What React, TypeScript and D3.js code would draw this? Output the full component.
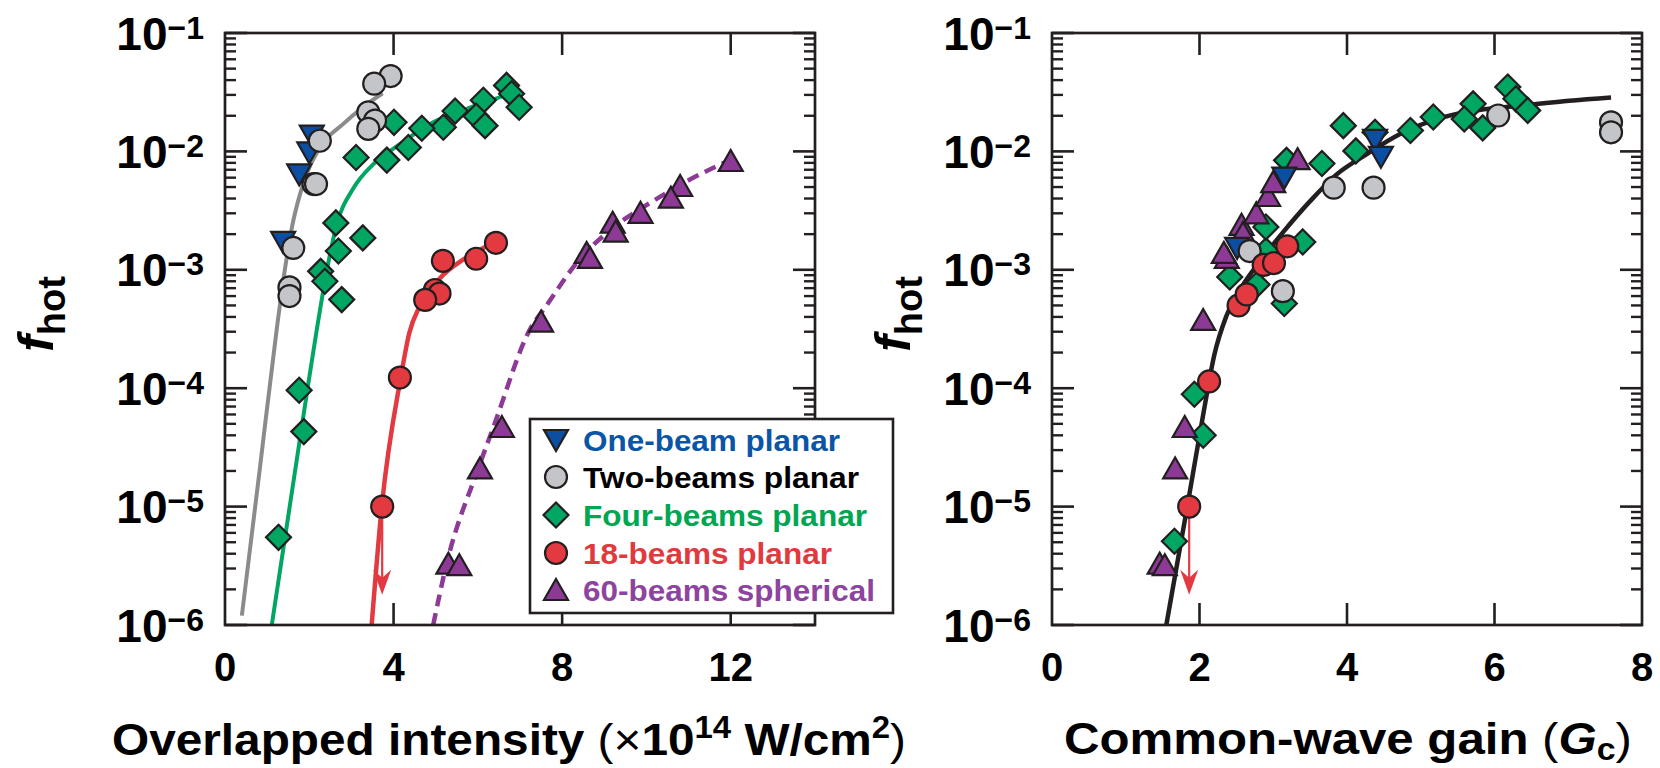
import React from "react";
import * as d3 from "d3";

type Pt = [number, number];

const FONT = "'Liberation Sans', Arial, Helvetica, sans-serif";
const INK = "#231f20";

// ---- series styling ----
const seriesNames = [
  "One-beam planar",
  "Two-beams planar",
  "Four-beams planar",
  "18-beams planar",
  "60-beams spherical",
];
const seriesShapes = ["triangleDown", "circle", "diamond", "circle", "triangle"];
const markerFills = ["#0b4ea2", "#c3c5c8", "#00a661", "#e23a40", "#8c3a95"];
const legendTextColors = ["#0b55a6", "#000000", "#00a651", "#e03a3e", "#8d44a0"];
const legendTextWidths = [257, 276, 284, 249, 292];
// draw order: four, sixty, one, two, eighteen
const drawOrder = [2, 4, 0, 1, 3];

// ---- left panel: f_hot vs overlapped intensity (x10^14 W/cm^2) ----
const intensityOneBeam: Pt[] = [
  [2.06, 0.0136], [2.0, 0.0098], [1.76, 0.0064], [1.38, 0.00172],
];
const intensityTwoBeams: Pt[] = [
  [3.93, 0.0433], [3.54, 0.0373], [3.4, 0.0214], [3.56, 0.0182], [3.4, 0.0155],
  [2.25, 0.0123], [2.1, 0.0053], [2.16, 0.0053], [1.62, 0.00153],
  [1.53, 0.00071], [1.53, 0.0006],
];
const intensityFourBeams: Pt[] = [
  [6.68, 0.0361], [6.8, 0.0307], [6.98, 0.0236], [6.13, 0.027], [5.96, 0.0198],
  [6.17, 0.0165], [5.46, 0.0219], [5.18, 0.016], [4.67, 0.0157], [4.35, 0.0108],
  [4.01, 0.0176], [3.84, 0.00844], [3.11, 0.00889], [2.63, 0.00249],
  [3.27, 0.00186], [2.69, 0.00144], [2.27, 0.00097], [2.37, 0.0008],
  [2.77, 0.00056], [1.76, 9.6e-5], [1.87, 4.3e-5], [1.27, 5.5e-6],
];
const intensityEighteenBeams: Pt[] = [
  [6.43, 0.00169], [5.96, 0.00124], [5.17, 0.00119], [4.98, 0.000675],
  [5.09, 0.00063], [4.75, 0.000557], [4.15, 0.000123], [3.73, 1e-5],
];
const intensitySixtyBeams: Pt[] = [
  [12.0, 0.0083], [10.8, 0.0051], [10.58, 0.00407], [9.86, 0.00303],
  [9.2, 0.0025], [9.27, 0.0021], [8.58, 0.00139], [8.66, 0.00126],
  [7.5, 0.000365], [6.57, 4.7e-5], [6.05, 2.1e-5], [5.3, 3.3e-6], [5.56, 3.2e-6],
];
const intensitySeries = [
  intensityOneBeam, intensityTwoBeams, intensityFourBeams,
  intensityEighteenBeams, intensitySixtyBeams,
];

// fitted curves, left panel
const fitTwoBeams: Pt[] = [
  [0.4, 1.2e-6], [0.82, 2e-5], [1.22, 3e-4], [1.42, 1e-3], [1.6, 2.4e-3],
  [1.8, 4.6e-3], [2.25, 1.08e-2], [2.8, 1.7e-2], [3.3, 2.4e-2], [3.74, 3.1e-2],
];
const fitFourBeams: Pt[] = [
  [1.11, 1e-6], [1.96, 1e-4], [2.17, 3e-4], [2.42, 1.0e-3], [2.65, 2.4e-3],
  [3.05, 4.9e-3], [3.52, 7.8e-3], [4.15, 1.15e-2], [4.94, 1.76e-2],
  [5.74, 2.29e-2], [6.53, 2.88e-2], [6.75, 3.1e-2],
];
const fitEighteenBeams: Pt[] = [
  [3.48, 1e-6], [3.72, 1e-5], [4.17, 1.23e-4], [4.37, 2.9e-4], [4.63, 5.0e-4],
  [5.1, 8.5e-4], [5.65, 1.22e-3], [6.21, 1.58e-3], [6.45, 1.74e-3],
];
const fitSixtyBeams: Pt[] = [
  [4.94, 1e-6], [5.26, 3.3e-6], [6.01, 2.1e-5], [6.37, 4.7e-5], [7.25, 3.2e-4],
  [7.63, 5e-4], [8.35, 1.15e-3], [9.3, 2.4e-3], [10.1, 3.7e-3], [11.0, 5.7e-3],
  [12.0, 8.5e-3],
];

// ---- right panel: f_hot vs common-wave gain G_c ----
const gainOneBeam: Pt[] = [
  [2.51, 0.00153], [3.15, 0.006], [4.38, 0.0125], [4.46, 0.009],
];
const gainTwoBeams: Pt[] = [
  [2.68, 0.00144], [3.13, 0.00066], [3.82, 0.00494], [4.36, 0.00494],
  [6.05, 0.0201], [7.58, 0.0176], [7.58, 0.0145],
];
const gainFourBeams: Pt[] = [
  [1.66, 5.1e-6], [2.05, 4.0e-5], [1.93, 8.9e-5], [2.41, 0.00087],
  [2.78, 0.00075], [3.15, 0.00052], [2.9, 0.00145], [3.4, 0.00172],
  [2.9, 0.0023], [3.18, 0.0084], [3.66, 0.0079], [3.95, 0.0165],
  [4.12, 0.0101], [4.38, 0.0145], [4.86, 0.015], [5.17, 0.0195],
  [5.71, 0.0252], [5.59, 0.0188], [5.84, 0.0158], [6.18, 0.035],
  [6.29, 0.0278], [6.45, 0.0222],
];
const gainEighteenBeams: Pt[] = [
  [1.86, 1e-5], [2.13, 0.000114], [2.53, 0.0005], [2.64, 0.00062],
  [2.87, 0.0011], [3.01, 0.00114], [3.19, 0.00158],
];
const gainSixtyBeams: Pt[] = [
  [1.46, 3.3e-6], [1.53, 3.2e-6], [1.67, 2.1e-5], [1.8, 4.7e-5],
  [2.05, 0.000377], [2.37, 0.00126], [2.33, 0.00139], [2.57, 0.0024],
  [2.59, 0.00205], [2.77, 0.003], [2.93, 0.0042], [3.0, 0.0055], [3.33, 0.0086],
];
const gainSeries = [
  gainOneBeam, gainTwoBeams, gainFourBeams, gainEighteenBeams, gainSixtyBeams,
];
const fitGain: Pt[] = [
  [1.55, 1e-6], [1.84, 1.05e-5], [2.06, 6.5e-5], [2.2, 1.9e-4], [2.36, 4.0e-4],
  [2.55, 6.8e-4], [2.82, 1.18e-3], [3.14, 2.1e-3], [3.5, 3.8e-3],
  [3.86, 6.4e-3], [4.27, 9.5e-3], [4.72, 1.4e-2], [5.31, 1.95e-2],
  [6.54, 2.5e-2], [7.58, 2.85e-2],
];

// upper limits (x, measured value, arrow tip)
const limitIntensity: [number, number, number] = [3.73, 1e-5, 1.8e-6];
const limitGain: [number, number, number] = [1.86, 1e-5, 1.8e-6];

// ---- axes ----
const yExponents = [-1, -2, -3, -4, -5, -6];
const intensityTicks = [0, 4, 8, 12];
const gainTicks = [0, 2, 4, 6, 8];

const yScale = d3.scaleLog().domain([1e-6, 1e-1]).range([625, 33]);
const xIntensity = d3.scaleLinear().domain([0, 14]).range([225, 815]);
const xGain = d3.scaleLinear().domain([0, 8]).range([1052, 1642]);

function Marker({ shape, fill, cx, cy }: { shape: string; fill: string; cx: number; cy: number }) {
  const common = { fill, stroke: INK, strokeWidth: 2.2, strokeLinejoin: "miter" as const };
  if (shape === "circle") return <circle cx={cx} cy={cy} r={11} {...common} />;
  let pts = "";
  if (shape === "diamond") pts = "0,-12.5 12.5,0 0,12.5 -12.5,0";
  else if (shape === "triangle") pts = "0,-11 12,10 -12,10";
  else pts = "0,11 12,-10 -12,-10";
  return <polygon points={pts} transform={`translate(${cx},${cy})`} {...common} />;
}

function Arrow({ x, y0, y1 }: { x: number; y0: number; y1: number }) {
  const col = "#e23a40";
  return (
    <g>
      <line x1={x} x2={x} y1={y0} y2={y1 - 14} stroke={col} strokeWidth={2.2} />
      <polygon
        points={`${x},${y1} ${x - 9},${y1 - 25} ${x},${y1 - 17} ${x + 9},${y1 - 25}`}
        fill={col}
      />
    </g>
  );
}

type PanelProps = {
  x: d3.ScaleLinear<number, number>;
  ticks: number[];
  series: Pt[][];
  fits: { pts: Pt[]; color: string; dash?: string; width: number }[];
  limit: [number, number, number];
  labelRight: number;
};

function Panel({ x, ticks, series, fits, limit, labelRight }: PanelProps) {
  const [x0, x1] = x.range();
  const [yb, yt] = yScale.range();
  const line = d3
    .line<Pt>()
    .x((d) => x(d[0]))
    .y((d) => yScale(d[1]))
    .curve(d3.curveMonotoneX);
  const minors: number[] = [];
  for (let e = -6; e <= -2; e++) for (let k = 2; k <= 9; k++) minors.push(k * 10 ** e);
  const inner = ticks.filter((t) => t > x.domain()[0] && t < x.domain()[1]);
  return (
    <g>
      {/* y ticks, both sides */}
      {minors.map((v, i) => (
        <g key={"m" + i}>
          <line x1={x0} x2={x0 + 11} y1={yScale(v)} y2={yScale(v)} stroke={INK} strokeWidth={2.4} />
          <line x1={x1} x2={x1 - 11} y1={yScale(v)} y2={yScale(v)} stroke={INK} strokeWidth={2.4} />
        </g>
      ))}
      {yExponents.map((e) => (
        <g key={"M" + e}>
          <line x1={x0} x2={x0 + 22} y1={yScale(10 ** e)} y2={yScale(10 ** e)} stroke={INK} strokeWidth={2.6} />
          <line x1={x1} x2={x1 - 22} y1={yScale(10 ** e)} y2={yScale(10 ** e)} stroke={INK} strokeWidth={2.6} />
        </g>
      ))}
      {/* x ticks */}
      {inner.map((t) => (
        <g key={"x" + t}>
          <line x1={x(t)} x2={x(t)} y1={yb} y2={yb - 22} stroke={INK} strokeWidth={2.6} />
          <line x1={x(t)} x2={x(t)} y1={yt} y2={yt + 22} stroke={INK} strokeWidth={2.6} />
        </g>
      ))}
      {/* y tick labels */}
      {yExponents.map((e) => (
        <text
          key={"yl" + e}
          x={labelRight}
          y={yScale(10 ** e) + 16.5}
          textAnchor="end"
          fontFamily={FONT}
          fontWeight="bold"
          fontSize={46}
          fill="#000"
        >
          10
          <tspan fontSize={32} dy={-11}>
            {"\u2212" + Math.abs(e)}
          </tspan>
        </text>
      ))}
      {/* x tick labels */}
      {ticks.map((t) => (
        <text
          key={"xl" + t}
          x={x(t)}
          y={681}
          textAnchor="middle"
          fontFamily={FONT}
          fontWeight="bold"
          fontSize={40}
          fill="#000"
        >
          {t}
        </text>
      ))}
      {/* fitted curves */}
      {fits.map((f, i) => (
        <path
          key={"f" + i}
          d={line(f.pts) || ""}
          fill="none"
          stroke={f.color}
          strokeWidth={f.width}
          strokeDasharray={f.dash}
        />
      ))}
      <Arrow x={x(limit[0])} y0={yScale(limit[1])} y1={yScale(limit[2])} />
      {/* data markers */}
      {drawOrder.map((si) =>
        series[si].map((p, j) => (
          <Marker
            key={si + "-" + j}
            shape={seriesShapes[si]}
            fill={markerFills[si]}
            cx={x(p[0])}
            cy={yScale(p[1])}
          />
        ))
      )}
      {/* frame */}
      <rect x={x0} y={yt} width={x1 - x0} height={yb - yt} fill="none" stroke={INK} strokeWidth={2.7} />
    </g>
  );
}

function FhotLabel({ x, y }: { x: number; y: number }) {
  return (
    <text
      transform={`translate(${x},${y}) rotate(-90)`}
      textAnchor="middle"
      fontFamily={FONT}
      fontWeight="bold"
      fill="#000"
    >
      <tspan fontStyle="italic" fontSize={50}>
        f
      </tspan>
      <tspan fontSize={38} dy={12}>
        hot
      </tspan>
    </text>
  );
}

function Legend() {
  const bx = 530, by = 419, bw = 363, bh = 194;
  const rows = [440, 477, 515, 553, 590];
  return (
    <g>
      <rect x={bx} y={by} width={bw} height={bh} fill="#fff" stroke={INK} strokeWidth={2.6} />
      {seriesNames.map((name, i) => (
        <g key={name}>
          <Marker shape={seriesShapes[i]} fill={markerFills[i]} cx={556} cy={rows[i]} />
          <text
            x={583}
            y={rows[i] + 11}
            fontFamily={FONT}
            fontWeight="bold"
            fontSize={30}
            fill={legendTextColors[i]}
            textLength={legendTextWidths[i]}
            lengthAdjust="spacingAndGlyphs"
          >
            {name}
          </text>
        </g>
      ))}
    </g>
  );
}

export default function App() {
  return (
    <svg
      width={1660}
      height={768}
      viewBox="0 0 1660 768"
      style={{ position: "absolute", left: 0, top: 0, background: "#fff" }}
    >
      <rect x={0} y={0} width={1660} height={768} fill="#fff" />
      <Panel
        x={xIntensity}
        ticks={intensityTicks}
        series={intensitySeries}
        fits={[
          { pts: fitTwoBeams, color: "#8b8b8b", width: 4 },
          { pts: fitFourBeams, color: "#00a661", width: 4 },
          { pts: fitEighteenBeams, color: "#e23a40", width: 4.5 },
          { pts: fitSixtyBeams, color: "#8c3a95", width: 4.5, dash: "12 7" },
        ]}
        limit={limitIntensity}
        labelRight={204}
      />
      <Panel
        x={xGain}
        ticks={gainTicks}
        series={gainSeries}
        fits={[{ pts: fitGain, color: INK, width: 4.5 }]}
        limit={limitGain}
        labelRight={1031}
      />
      <FhotLabel x={53} y={314} />
      <FhotLabel x={910} y={314} />
      <Legend />
      {/* axis titles */}
      <text
        x={112}
        y={755}
        fontFamily={FONT}
        fontWeight="bold"
        fontSize={45}
        fill="#000"
        textLength={794}
        lengthAdjust="spacingAndGlyphs"
      >
        Overlapped intensity <tspan fontWeight="normal">(×</tspan>10
        <tspan fontSize={31} dy={-17}>14</tspan>
        <tspan dy={17}> W/cm</tspan>
        <tspan fontSize={31} dy={-17}>2</tspan>
        <tspan fontWeight="normal" dy={17}>)</tspan>
      </text>
      <text
        x={1064}
        y={754}
        fontFamily={FONT}
        fontWeight="bold"
        fontSize={45}
        fill="#000"
        textLength={568}
        lengthAdjust="spacingAndGlyphs"
      >
        Common-wave gain <tspan fontWeight="normal">(</tspan>
        <tspan fontStyle="italic">G</tspan>
        <tspan fontSize={31} dy={6}>c</tspan>
        <tspan fontWeight="normal" dy={-6}>)</tspan>
      </text>
    </svg>
  );
}
